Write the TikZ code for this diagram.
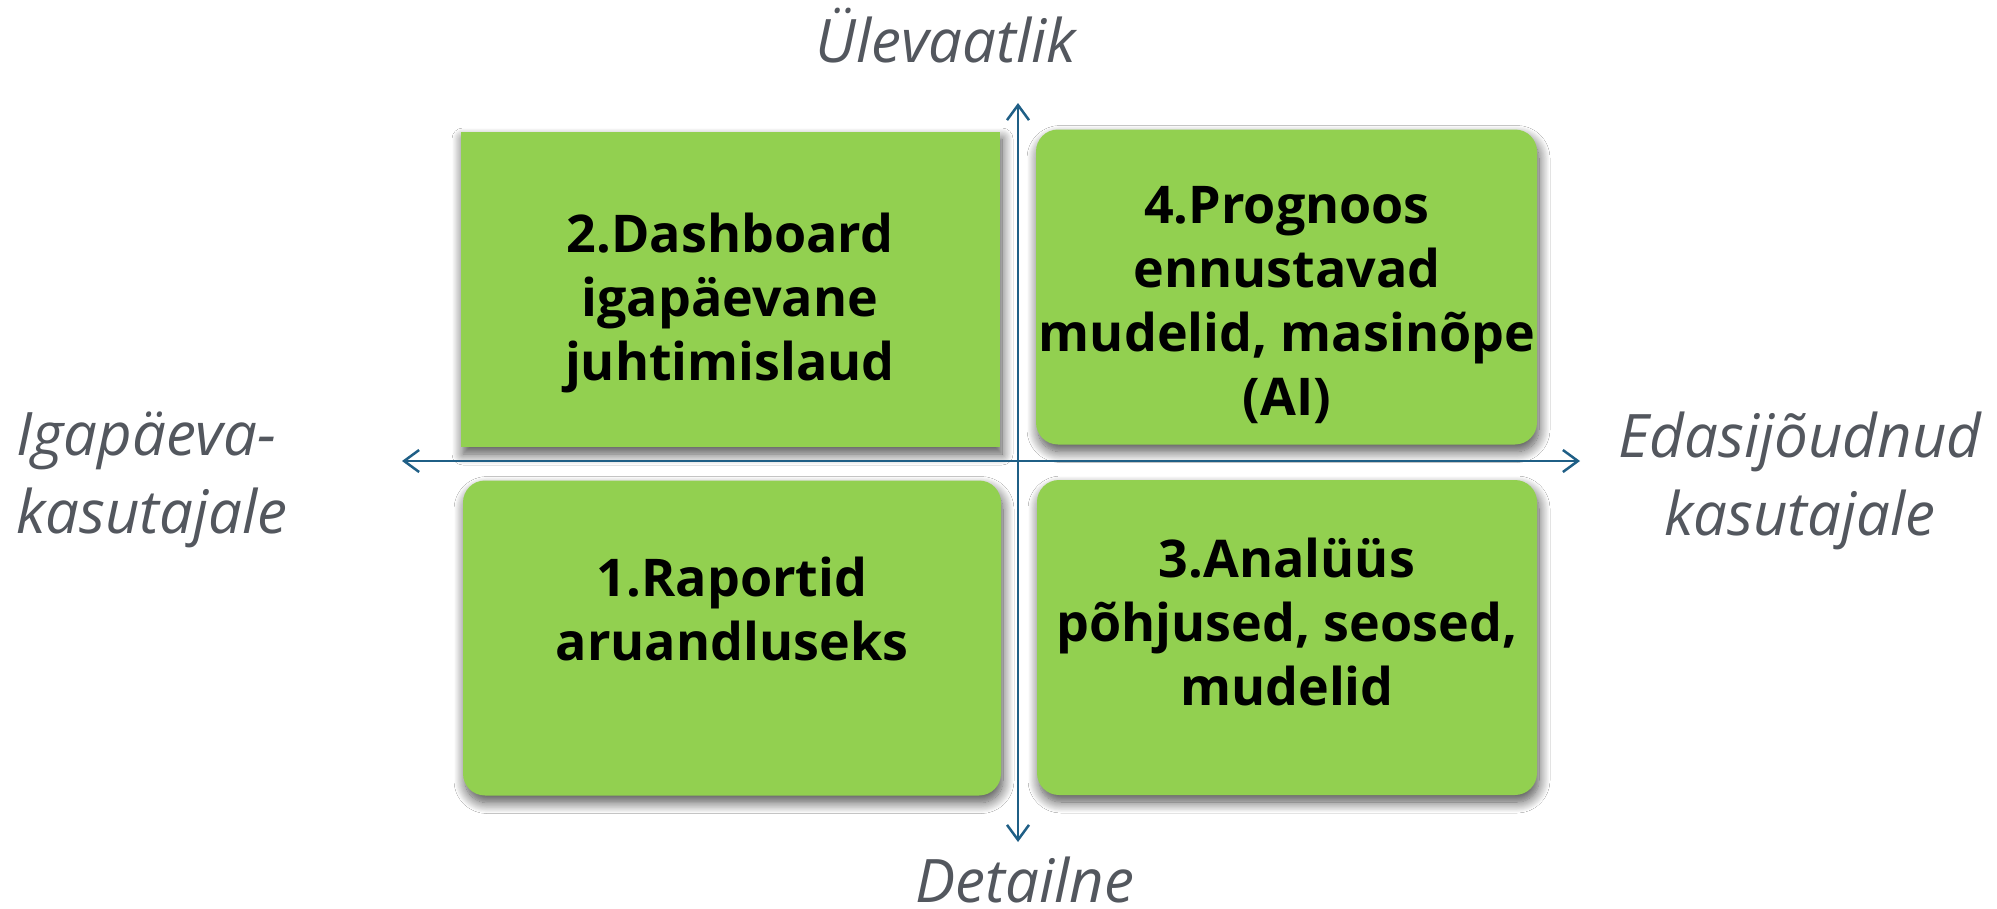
\documentclass[tikz,border=0pt]{standalone}
\usepackage{fontspec}
\setmainfont{Open Sans}
\usetikzlibrary{arrows.meta,shadows.blur}
\definecolor{cardgreen}{HTML}{92D050}
\definecolor{axisblue}{HTML}{1F5F86}
\definecolor{labelgray}{HTML}{53575E}
\begin{document}
\begin{tikzpicture}[x=1pt,y=-1pt,
  card/.style={rectangle, fill=cardgreen, draw=none, inner sep=0pt,
    minimum width=500pt, minimum height=315pt,
    blur shadow={shadow xshift=2pt, shadow yshift=-7pt, shadow blur radius=11pt,
      shadow opacity=70, shadow blur steps=14}},
  roundcard/.style={card, rounded corners=22pt},
  cardtext/.style={font=\fontsize{52}{64}\selectfont\bfseries, align=center,
    inner sep=0pt, text=black},
  axislabel/.style={font=\fontsize{60}{78}\selectfont\itshape, text=labelgray,
    inner sep=0pt},
  axis/.style={draw=axisblue, line width=2.5pt,
    {Straight Barb[length=15pt,width=22pt]}-{Straight Barb[length=15pt,width=22pt]}}]
\useasboundingbox[fill=white] (0,0) rectangle (1997,908);

% quadrant cards
\node[card, minimum width=539pt] (c2) at (730.5,289.5) {};
\node[roundcard, minimum width=501pt] (c4) at (1286.5,287) {};
\node[roundcard, minimum width=538pt] (c1) at (732,638) {};
\node[roundcard, minimum width=500pt] (c3) at (1287,637.5) {};

% card texts (base = baseline of the last line)
\node[cardtext, anchor=base] (t2) at (730,380) {2.Dashboard\\igapäevane\\juhtimislaud};
\node[cardtext, anchor=base] (t4) at (1287,415) {4.Prognoos\\ennustavad\\mudelid, masinõpe\\(AI)};
\node[cardtext, anchor=base] (t1) at (732,660) {1.Raportid\\aruandluseks};
\node[cardtext, anchor=base] (t3) at (1287,705) {3.Analüüs\\põhjused, seosed,\\mudelid};

% axes
\coordinate (up) at (1018,103);
\coordinate (down) at (1018,842);
\coordinate (left) at (402,461);
\coordinate (right) at (1580,461);
\draw[axis] (down) -- (up);
\draw[axis] (left) -- (right);

% axis labels
\node[axislabel, anchor=base] (lt) at (946,62) {Ülevaatlik};
\node[axislabel, anchor=base] (lb) at (1025,902) {Detailne};
\node[axislabel, anchor=base west, align=left] (ll) at (16,533) {Igapäeva-\\kasutajale};
\node[axislabel, anchor=base, align=center] (lr) at (1800,535) {Edasijõudnud\\kasutajale};
\end{tikzpicture}
\end{document}
